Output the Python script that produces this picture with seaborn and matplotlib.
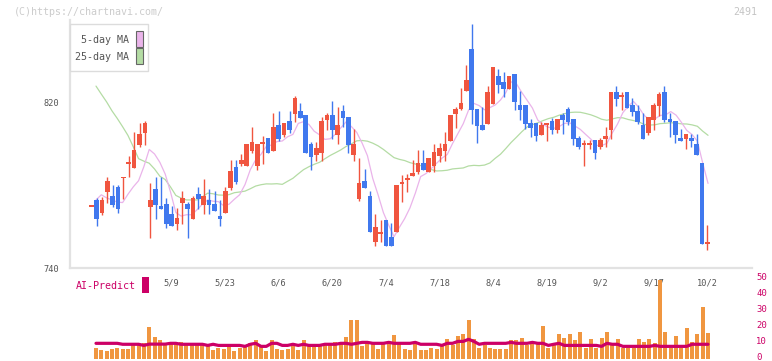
import numpy as np
import pandas as pd
import matplotlib
matplotlib.use("Agg")
import matplotlib.pyplot as plt
from matplotlib.patches import Rectangle
import seaborn as sns

nan = np.nan

# ---------------- data ----------------
opens = [770.1, 773.0, 766.8, 777.0, 774.9, 779.3, 784.0, 790.9, 788.6, 799.6,
         805.6, 769.7, 778.3, 770.1, 771.0, 766.2, 761.5, 771.7, 771.0, 763.9,
         775.9, 770.7, 773.0, 771.0, 765.4, 766.8, 778.8, 789.0, 790.4, 789.5,
         796.7, 789.5, 800.1, 803.0, 796.7, 809.3, 804.5, 811.3, 814.7, 816.1,
         814.2, 800.1, 794.8, 795.8, 811.8, 814.2, 804.5, 816.1, 813.2, 794.8,
         773.5, 782.2, 774.9, 752.6, 757.0, 763.3, 755.0, 757.5, 781.2, 783.2,
         784.6, 786.5, 790.9, 786.5, 789.5, 794.3, 796.7, 801.6, 814.7, 817.1,
         825.8, 846.2, 817.1, 809.3, 809.8, 819.5, 833.1, 830.2, 826.8, 834.1,
         819.0, 819.0, 810.3, 810.3, 804.5, 809.3, 811.3, 806.9, 814.2, 817.1,
         812.2, 803.0, 800.1, 800.1, 802.1, 798.7, 802.5, 806.9, 825.3, 823.4,
         825.3, 819.0, 816.1, 809.3, 805.5, 811.8, 818.5, 825.3, 812.2, 811.3,
         803.0, 802.5, 803.0, 800.1, 790.9, 752.1]
highs = [770.1, 773.8, 774.3, 784.1, 780.2, 780.2, 784.0, 794.5, 805.9, 810.3,
         811.3, 781.2, 784.1, 784.1, 773.9, 770.1, 769.1, 777.3, 772.0, 774.9,
         779.3, 783.2, 778.3, 777.3, 773.0, 779.3, 792.4, 792.4, 795.3, 800.1,
         808.4, 800.1, 804.0, 803.0, 815.2, 816.1, 810.3, 816.1, 823.4, 820.0,
         814.2, 801.1, 801.1, 813.2, 815.2, 821.0, 818.1, 819.0, 813.2, 807.4,
         793.3, 788.0, 777.3, 766.2, 763.3, 763.3, 761.8, 780.2, 785.1, 785.6,
         792.4, 797.2, 797.2, 793.3, 800.1, 800.6, 805.9, 814.2, 818.1, 827.3,
         838.4, 858.3, 817.1, 818.1, 828.2, 837.5, 836.5, 835.0, 833.1, 834.1,
         825.8, 819.0, 812.2, 810.3, 810.8, 810.3, 812.7, 812.2, 815.2, 818.1,
         812.2, 804.0, 802.1, 802.1, 802.1, 803.0, 808.4, 825.3, 828.2, 825.3,
         825.3, 822.4, 819.0, 815.2, 813.2, 820.0, 825.3, 828.2, 815.2, 811.3,
         807.4, 805.0, 805.0, 805.0, 790.9, 760.8]
lows = [770.1, 760.5, 765.7, 771.7, 769.7, 766.8, 773.5, 784.0, 788.6, 798.8,
        799.6, 754.7, 763.9, 768.8, 759.6, 760.5, 758.6, 761.5, 754.7, 763.9,
        768.8, 766.3, 766.3, 767.8, 760.5, 766.8, 777.8, 780.7, 789.5, 789.5,
        795.8, 787.5, 790.4, 795.8, 796.7, 801.6, 803.5, 805.5, 810.8, 812.7,
        795.8, 787.5, 791.9, 791.9, 806.9, 802.5, 800.1, 808.4, 795.8, 791.9,
        772.5, 778.8, 757.5, 750.7, 752.6, 750.7, 750.7, 757.5, 772.0, 776.8,
        784.6, 785.6, 787.5, 786.5, 786.5, 791.4, 791.9, 801.6, 807.9, 816.6,
        825.8, 809.8, 800.6, 806.9, 809.8, 819.5, 824.8, 822.9, 826.8, 816.6,
        811.8, 807.4, 803.5, 801.6, 804.5, 801.6, 805.0, 805.5, 805.0, 809.3,
        799.6, 797.7, 789.5, 797.7, 792.8, 797.7, 798.7, 802.5, 818.5, 816.6,
        817.6, 813.7, 809.8, 802.5, 804.5, 806.9, 813.7, 810.8, 803.5, 800.6,
        801.6, 797.7, 798.7, 794.8, 751.6, 748.7]
closes = [770.1, 763.9, 773.0, 782.2, 770.7, 768.8, 784.0, 790.9, 797.2, 805.0,
          810.3, 773.0, 770.7, 768.8, 761.5, 760.5, 764.4, 773.9, 768.8, 773.9,
          773.6, 774.9, 770.7, 767.8, 763.9, 777.3, 787.0, 781.7, 792.4, 800.1,
          801.1, 800.1, 801.1, 795.8, 808.4, 802.5, 810.3, 806.9, 822.4, 812.7,
          795.8, 793.8, 798.2, 811.3, 814.2, 806.9, 809.3, 812.7, 799.6, 800.1,
          781.2, 778.8, 757.5, 759.9, 757.0, 750.7, 750.7, 780.2, 781.2, 783.2,
          786.1, 790.9, 787.5, 793.3, 796.2, 798.2, 800.1, 814.2, 817.1, 820.0,
          831.2, 816.6, 808.8, 806.9, 825.3, 837.5, 828.7, 826.8, 833.1, 820.5,
          816.6, 809.8, 807.9, 804.0, 809.3, 810.3, 806.9, 812.2, 811.8, 810.8,
          802.5, 798.7, 800.1, 800.1, 795.8, 802.1, 804.0, 825.3, 821.9, 823.4,
          817.6, 815.6, 810.8, 802.5, 813.2, 819.0, 824.4, 811.8, 810.8, 804.5,
          801.6, 805.0, 801.6, 794.8, 751.6, 752.1]

# moving-average values for the first days, where the window reaches back
# before the first candle shown
ma5_head = [773.0, 775.5, 774.0, 773.0]
ma25_head = [828.2, 824.3, 820.5, 816.2, 812.5, 808.5, 804.3, 798.8, 793.0, 791.8,
             790.8, 788.0, 784.5, 782.9, 779.3, 775.2, 773.9, 773.0, 773.0, 773.0,
             774.5, 776.3, 776.0, 775.4]

volume = [6.9, 5.6, 5.0, 6.25, 6.9, 6.25, 6.25, 8.75, 8.75, 10,
          20, 13.75, 11.9, 8.75, 10, 10, 10.6, 9.4, 9.4, 9.4,
          9.4, 8.1, 5.6, 6.9, 6.25, 7.5, 5.0, 6.9, 7.5, 10,
          11.9, 8.1, 5.0, 11.9, 6.25, 5.6, 6.25, 10, 5.6, 11.9,
          9.4, 9.4, 9.4, 10, 10, 10.6, 10.6, 13.75, 24.4, 24.4,
          8.1, 10.6, 10, 6.25, 9.4, 10.3, 15, 9.4, 6.25, 5.6,
          10.6, 5.6, 5.6, 6.9, 6.25, 8.75, 12.5, 8.75, 14.4, 15.6,
          24.4, 12.5, 6.9, 8.75, 6.9, 6.25, 6.25, 6.25, 11.9, 11.9,
          13.1, 8.75, 10.6, 9.4, 20.6, 6.9, 9.4, 15.6, 13.1, 15.6,
          11.9, 16.9, 6.9, 12.5, 6.9, 13.1, 16.9, 9.4, 12.5, 6.9,
          6.9, 6.9, 12.5, 10.6, 12.5, 10, 49.4, 16.9, 6.9, 14.4,
          6.9, 19.4, 10.6, 15.6, 32.5, 16]

ai_predict = [9.8, 9.8, 9.8, 9.8, 9.8, 9.2, 9.2, 9.2, 9.2, 8.5,
              9.3, 9.3, 9.3, 9.3, 9.8, 9.8, 9.2, 9.2, 9.2, 9.2,
              9.2, 8.5, 9.2, 8.5, 8.5, 8.5, 8.5, 8.5, 7.9, 9.2,
              9.8, 7.9, 7.9, 9.8, 9.8, 8.5, 8.5, 9.2, 8.5, 9.2,
              8.5, 8.5, 8.5, 9.2, 9.2, 9.2, 9.8, 9.8, 9.2, 9.8,
              10.4, 10.4, 9.8, 9.8, 9.8, 10.4, 9.8, 9.8, 9.8, 9.8,
              10.4, 9.2, 9.2, 9.2, 9.2, 8.5, 9.8, 9.8, 11.0, 11.0,
              12.3, 11.0, 9.2, 9.8, 9.8, 9.8, 9.8, 9.8, 10.4, 9.8,
              9.8, 9.8, 10.4, 9.8, 9.8, 8.5, 9.2, 9.8, 8.5, 8.5,
              8.5, 8.5, 8.5, 8.5, 8.5, 7.9, 9.8, 9.2, 9.2, 7.9,
              7.9, 7.9, 7.9, 7.9, 7.9, 8.5, 7.9, 7.9, 7.9, 7.9,
              7.9, 7.9, 9.2, 9.2, 9.2, 9.2]

date_labels = ["5/9", "5/23", "6/6", "6/20", "7/4", "7/18", "8/4", "8/19", "9/2", "9/17", "10/2"]
date_label_days = [15, 25, 35, 45, 55, 65, 75, 85, 95, 105, 115]

price_ticks = [740, 820]
volume_ticks = [0, 10, 20, 30, 40, 50]

# ---------------- styling ----------------
RED = "#f0553f"
BLUE = "#4078ee"
PINK = "#eab4ea"
GREEN = "#b4dca4"
ORANGE = "#f09640"
CRIMSON = "#cc0066"
AXCOL = "#dddddd"
TXT = "#555555"

sns.set_style("white")
plt.rcParams["font.family"] = ["DejaVu Sans Mono", "DejaVu Sans"]

W, H = 772, 361
fig = plt.figure(figsize=(W / 100, H / 100), dpi=100)


def fx(px):
    return px / W


def fy(py):
    return 1 - py / H


# candles and the line/volume layers use slightly different horizontal scales
C0_PX, C_STEP = 91.3, 5.357
L0_PX, L_STEP = 96.0, 5.322
xlim_c = ((70 - C0_PX) / C_STEP, (752 - C0_PX) / C_STEP)
xlim_l = ((70 - L0_PX) / L_STEP, (752 - L0_PX) / L_STEP)
ylim_p = (740, 740 + (268 - 20) / 2.0625)

rect_main = [fx(70), fy(268), fx(752) - fx(70), fy(20) - fy(268)]
axl = fig.add_axes(rect_main)            # moving-average layer (behind)
ax = fig.add_axes(rect_main)             # candles + axes decoration
axv = fig.add_axes([fx(70), fy(359), fx(752) - fx(70), fy(279) - fy(359)])

df = pd.DataFrame({"open": opens, "high": highs, "low": lows, "close": closes,
                   "vol": volume, "ai": ai_predict})
df["day"] = np.arange(len(df))
ma5 = df["close"].rolling(5).mean()
ma5.iloc[:len(ma5_head)] = ma5_head
ma25 = df["close"].rolling(25).mean()
ma25.iloc[:len(ma25_head)] = ma25_head
df["ma5"] = ma5
df["ma25"] = ma25

# moving averages
sns.lineplot(data=df, x="day", y="ma25", ax=axl, color=GREEN, lw=0.9, estimator=None)
sns.lineplot(data=df, x="day", y="ma5", ax=axl, color=PINK, lw=0.9, estimator=None)
axl.set_xlim(*xlim_l)
axl.set_ylim(*ylim_p)
axl.axis("off")

# candles
up = df["close"] >= df["open"]
cols = np.where(up, RED, BLUE)
ax.vlines(df["day"], df["low"], df["high"], colors=cols, lw=1.0, zorder=2)
body_lo = np.minimum(df["open"], df["close"])
body_h = np.abs(df["close"] - df["open"])
doji = body_h < 0.3
body_lo = np.where(doji, body_lo - 0.3, body_lo)
body_h = np.where(doji, 0.6, body_h)
ax.bar(df["day"], body_h, bottom=body_lo, width=0.86, color=cols, linewidth=0, zorder=3)

ax.set_xlim(*xlim_c)
ax.set_ylim(*ylim_p)
ax.set_xlabel("")
ax.set_ylabel("")
ax.set_yticks(price_ticks)
ax.set_yticklabels([str(t) for t in price_ticks], fontsize=6.2, color=TXT)
span = xlim_c[1] - xlim_c[0]
ax.set_xticks([xlim_c[0] + k * span / 11 - 1e-6 for k in range(1, 12)])
ax.set_xticklabels([])
ax.tick_params(axis="both", direction="inout", length=7, width=1, color=AXCOL, pad=4)
for s in ["top", "right"]:
    ax.spines[s].set_visible(False)
for s in ["left", "bottom"]:
    ax.spines[s].set_color("#e2e2e2")
    ax.spines[s].set_linewidth(1.6)
ax.set_facecolor("none")

for d, lab in zip(date_label_days, date_labels):
    ax.annotate(lab, xy=(d, 0), xycoords=("data", "axes fraction"), xytext=(0, -10.8),
                textcoords="offset points", ha="center", va="center", fontsize=6.2, color=TXT)

# volume panel
sns.barplot(data=df, x="day", y="vol", ax=axv, native_scale=True, color=ORANGE,
            saturation=1, width=0.75, errorbar=None, linewidth=0, zorder=1)
sns.lineplot(data=df, x="day", y="ai", ax=axv, color=CRIMSON, lw=2.3, estimator=None, zorder=2)
axv.set_xlim(*xlim_l)
axv.set_ylim(0, 50)
axv.set_xlabel("")
axv.set_ylabel("")
axv.set_xticks([])
axv.set_yticks([])
for s in axv.spines.values():
    s.set_visible(False)
axv.set_facecolor("none")
for t in volume_ticks:
    axv.annotate(str(t), xy=(1.0, t), xycoords=("axes fraction", "data"), xytext=(3.0, 1.1),
                 textcoords="offset points", ha="left", va="center", fontsize=6.4,
                 color=CRIMSON, annotation_clip=False)

# legend box
fig.add_artist(Rectangle((fx(70), fy(71)), fx(148) - fx(70), fy(24) - fy(71),
                         transform=fig.transFigure, facecolor="white", edgecolor="#dcdcdc", lw=1.0, zorder=5))
fig.text(fx(129), fy(40), "5-day MA", ha="right", va="center", fontsize=7.2, color=TXT, zorder=6)
fig.text(fx(129), fy(57), "25-day MA", ha="right", va="center", fontsize=7.2, color=TXT, zorder=6)
fig.add_artist(Rectangle((fx(136), fy(47)), fx(143) - fx(136), fy(31) - fy(47),
                         transform=fig.transFigure, facecolor=PINK, edgecolor="#666666", lw=0.8, zorder=6))
fig.add_artist(Rectangle((fx(136), fy(63.5)), fx(143) - fx(136), fy(48.5) - fy(63.5),
                         transform=fig.transFigure, facecolor=GREEN, edgecolor="#666666", lw=0.8, zorder=6))

# header texts
fig.text(fx(14), fy(12), "(C)https://chartnavi.com/", ha="left", va="center", fontsize=7.2, color="#cccccc")
fig.text(fx(757), fy(12), "2491", ha="right", va="center", fontsize=7.2, color="#c4c4c4")

# AI-Predict label
fig.text(fx(76), fy(286), "AI-Predict", ha="left", va="center", fontsize=7.2, color=CRIMSON)
fig.add_artist(Rectangle((fx(142.3), fy(293)), fx(148.7) - fx(142.3), fy(277) - fy(293),
                         transform=fig.transFigure, facecolor=CRIMSON, edgecolor="none"))

fig.savefig("out.png", dpi=100)
